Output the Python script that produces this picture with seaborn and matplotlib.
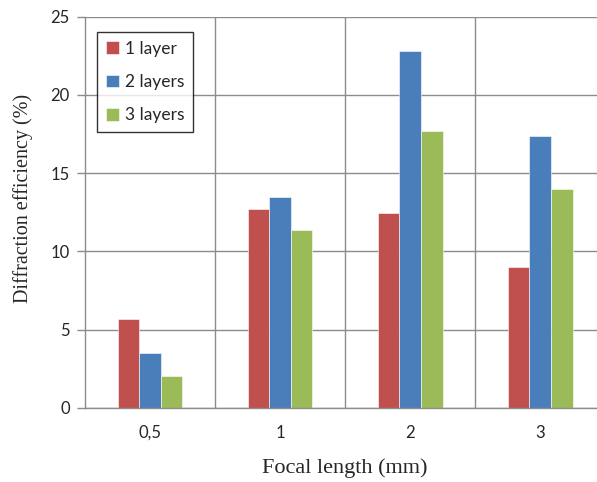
import matplotlib
matplotlib.use("Agg")
import matplotlib.pyplot as plt
import seaborn as sns
import pandas as pd

# Values
focal_lengths = ["0,5", "1", "2", "3"]
layers = ["1 layer", "2 layers", "3 layers"]
one_layer = [5.7, 12.7, 12.45, 9.0]
two_layers = [3.5, 13.45, 22.8, 17.35]
three_layers = [2.05, 11.35, 17.7, 14.0]

colors = ["#C0504D", "#4A7EBB", "#9BBB59"]

data = pd.DataFrame({
    "Focal": focal_lengths * 3,
    "Layers": [layers[0]] * 4 + [layers[1]] * 4 + [layers[2]] * 4,
    "Efficiency": one_layer + two_layers + three_layers,
})

sns.set_style("white")
plt.rcParams["font.family"] = ["Lato", "DejaVu Sans"]

W, H = 597, 482
fig = plt.figure(figsize=(W / 100, H / 100), dpi=100)
left, right, top, bottom = 85, 605, 16.7, 408
ax = fig.add_axes([left / W, (H - bottom) / H, (right - left) / W, (bottom - top) / H])

sns.barplot(data=data, x="Focal", y="Efficiency", hue="Layers",
            order=focal_lengths, hue_order=layers, palette=colors,
            saturation=1, width=0.5, gap=0, ax=ax,
            edgecolor="white", linewidth=0.4)

ax.set_ylim(0, 25)
ax.set_xlim(-0.5, 3.5)
ax.set_yticks([0, 5, 10, 15, 20, 25])
ax.set_xticks(range(4))
ax.set_xticks([0.5, 1.5, 2.5], minor=True)
ax.set_xticklabels(focal_lengths)

grid_col = "#8c8c8c"
ax.grid(axis="y", color=grid_col, linewidth=1.0)
ax.grid(axis="x", which="minor", color=grid_col, linewidth=1.0)
ax.grid(axis="x", which="major", visible=False)
ax.set_axisbelow(True)

for s in ["top", "right"]:
    ax.spines[s].set_visible(False)
for s in ["left", "bottom"]:
    ax.spines[s].set_color(grid_col)
    ax.spines[s].set_linewidth(1.0)

ax.tick_params(axis="y", which="major", direction="out", length=6, width=1.0,
               color=grid_col, left=True, labelsize=12, pad=5)
ax.tick_params(axis="x", which="both", length=0, labelsize=12, pad=12)

ax.set_xlabel("Focal length (mm)", family="Liberation Serif", fontsize=16,
              labelpad=13)
ax.set_ylabel("Diffraction efficiency (%)", family="Liberation Serif",
              fontsize=14.5)
ax.yaxis.set_label_coords(-0.1, 0.535)

leg = ax.legend(loc="upper left", bbox_to_anchor=(0.023, 0.961),
                borderaxespad=0, fontsize=12.5, frameon=True, fancybox=False,
                edgecolor="black", labelspacing=1.0, handlelength=0.75,
                handleheight=0.75, handletextpad=0.35, borderpad=0.5)
leg.get_frame().set_linewidth(1.0)
leg.set_title(None)

fig.savefig("out.png", dpi=100)
